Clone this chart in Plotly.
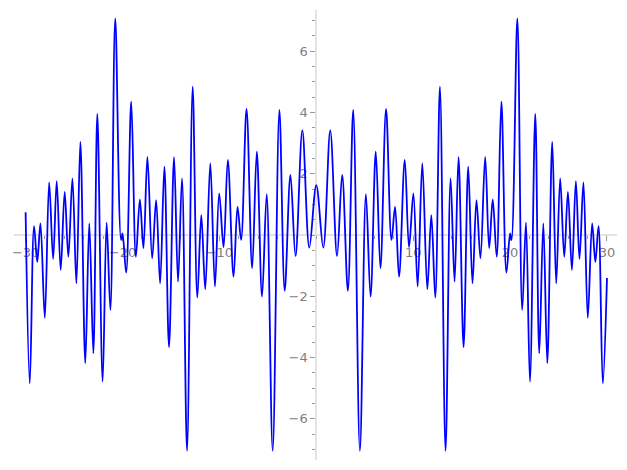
import plotly.graph_objects as go

# Local extrema (left half, x < 0)
x_left = [-30.0, -29.57, -29.13, -28.8, -28.47, -28.02, -27.57, -27.16, -26.79, -26.38,
          -25.97, -25.59, -25.17, -24.76, -24.35, -23.84, -23.43, -23.01, -22.6, -22.05,
          -21.64, -21.25, -20.75, -20.15, -20.0, -19.62, -19.1, -18.62, -18.21, -17.84,
          -17.43, -16.94, -16.53, -16.12, -15.68, -15.2, -14.68, -14.27, -13.86, -13.34,
          -12.76, -12.28, -11.87, -11.46, -10.94, -10.46, -10.02, -9.57, -9.13, -8.54,
          -8.13, -7.76, -7.2, -6.62, -6.14, -5.6, -5.12, -4.5, -3.81, -3.26,
          -2.67, -2.14, -1.44, -0.72]
y_left = [0.74, -4.84, 0.29, -0.88, 0.38, -2.7, 1.72, -0.78, 1.76, -1.14,
          1.41, -0.71, 1.85, -1.58, 3.04, -4.18, 0.38, -3.86, 3.95, -4.78,
          0.4, -2.45, 7.07, -0.16, 0.05, -1.23, 4.35, -0.71, 1.16, -0.43,
          2.55, -0.76, 1.14, -1.58, 2.23, -3.66, 2.54, -1.52, 1.85, -7.04,
          4.84, -2.04, 0.65, -1.77, 2.34, -1.68, 1.36, -0.40, 2.45, -1.36,
          0.92, -0.16, 4.11, -1.09, 2.72, -2.01, 1.33, -7.04, 4.08, -1.82,
          1.96, -0.69, 3.41, -0.41]

# Centre value
x_mid = [0.0]
y_mid = [1.63]

# Local extrema (right half, x > 0)
x_right = [0.72, 1.44, 2.14, 2.67, 3.26, 3.81, 4.5, 5.12, 5.6, 6.14,
           6.62, 7.2, 7.76, 8.13, 8.54, 9.13, 9.57, 10.02, 10.46, 10.94,
           11.46, 11.87, 12.28, 12.76, 13.34, 13.86, 14.27, 14.68, 15.2, 15.68,
           16.12, 16.53, 16.94, 17.43, 17.84, 18.21, 18.62, 19.1, 19.62, 20.0,
           20.15, 20.75, 21.25, 21.64, 22.05, 22.6, 23.01, 23.43, 23.84, 24.35,
           24.76, 25.17, 25.59, 25.97, 26.38, 26.79, 27.16, 27.57, 28.02, 28.47,
           28.8, 29.13, 29.57, 30.0]
y_right = [-0.41, 3.41, -0.69, 1.96, -1.82, 4.08, -7.04, 1.33, -2.01, 2.72,
           -1.09, 4.11, -0.16, 0.92, -1.36, 2.45, -0.40, 1.36, -1.68, 2.34,
           -1.77, 0.65, -2.04, 4.84, -7.04, 1.85, -1.52, 2.54, -3.66, 2.23,
           -1.58, 1.14, -0.76, 2.55, -0.43, 1.16, -0.71, 4.35, -1.23, 0.05,
           -0.16, 7.07, -2.45, 0.4, -4.78, 3.95, -3.86, 0.38, -4.18, 3.04,
           -1.58, 1.85, -0.71, 1.41, -1.14, 1.76, -0.78, 1.72, -2.7, 0.38,
           -0.88, 0.29, -4.84, -1.4]

x_tick_vals = [-30, -20, -10, 10, 20, 30]
x_tick_text = ["\u221230", "\u221220", "\u221210", "10", "20", "30"]
y_tick_vals = [-6, -4, -2, 2, 4, 6]
y_tick_text = ["\u22126", "\u22124", "\u22122", "2", "4", "6"]

xs = x_left + x_mid + x_right
ys = y_left + y_mid + y_right

W, H = 627, 470
OFF = 8  # page body margin
fig = go.Figure()
fig.add_trace(go.Scatter(x=xs, y=ys, mode="lines",
                         line=dict(color="#0000ff", width=1.8, shape="spline", smoothing=1.0),
                         hoverinfo="skip", showlegend=False))

axis_common = dict(
    showline=True, linecolor="#e3e3e3", linewidth=2,
    showgrid=False, zeroline=False,
    ticks="outside", ticklen=5, tickwidth=1, tickcolor="#999999",
    tickfont=dict(family="DejaVu Sans", size=13, color="#808080"),
    anchor="free", tickmode="array", layer="below traces",
)

x0_pix = 315.3 - OFF
y0_pix = 235 - OFF

fig.update_layout(
    width=W, height=H,
    margin=dict(l=0, r=0, t=0, b=0),
    paper_bgcolor="white", plot_bgcolor="white",
    xaxis=dict(**axis_common,
               domain=[(12 - OFF) / W, (617 - OFF) / W], range=[-31.2, 31.04],
               position=(H - y0_pix) / H,
               tickvals=x_tick_vals, ticktext=x_tick_text,
               minor=dict(tickmode="linear", tick0=0, dtick=2, ticks="outside",
                          ticklen=3, tickcolor="#999999", tickwidth=1)),
    yaxis=dict(**axis_common,
               domain=[(H - (460 - OFF)) / H, (H - (10 - OFF)) / H], range=[-7.34, 7.34],
               position=x0_pix / W,
               tickvals=y_tick_vals, ticktext=y_tick_text,
               minor=dict(tickmode="linear", tick0=0, dtick=0.5, ticks="outside",
                          ticklen=3, tickcolor="#999999", tickwidth=1)),
)

fig.write_html("out.html")
